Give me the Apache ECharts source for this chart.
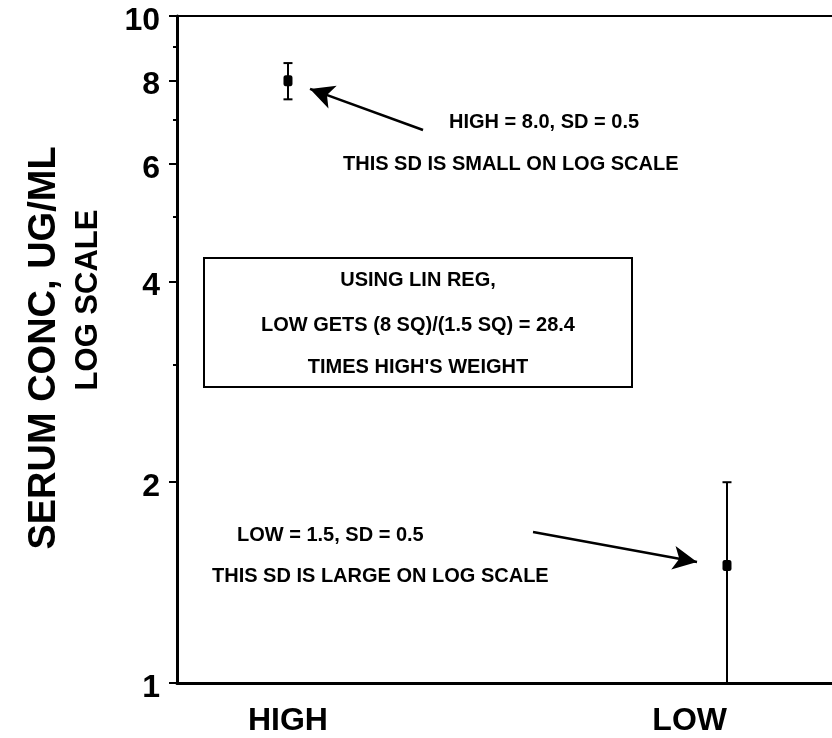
<!DOCTYPE html>
<html><head><meta charset="utf-8">
<script src="https://cdn.jsdelivr.net/npm/echarts@6/dist/echarts.min.js"></script>
<style>html,body{margin:0;padding:0;background:#fff}#c{width:832px;height:738px}</style>
</head><body><div id="c"></div>
<script>
// ---- data ----
const categories = ['HIGH', 'LOW'];
const catX = [1, 2];
const means = [8.0, 1.5];
const sds = [0.5, 0.5];
const yMajorTicks = [1, 2, 4, 6, 8, 10];
const yMinorTicks = [3, 5, 7, 9];
const xLabelPos = [1.0, 1.915];
const yTitle = ['SERUM CONC, UG/ML', 'LOG SCALE'];
// annotation arrows: [tailX, tailY, tipX, tipY] in data space
const arrowHigh = [1.3076, 6.747, 1.0502, 7.774];
const arrowLow = [1.5582, 1.684, 1.9317, 1.518];
const notesHigh = ['HIGH = 8.0, SD = 0.5', 'THIS SD IS SMALL ON LOG SCALE'];
const notesLow = ['LOW = 1.5, SD = 0.5', 'THIS SD IS LARGE ON LOG SCALE'];
const boxLines = ['USING LIN REG,', 'LOW GETS (8 SQ)/(1.5 SQ) = 28.4', "TIMES HIGH'S WEIGHT"];

const xMin = 0.7472, xMax = 2.2392;
const FONT = '"Liberation Sans", Arial, sans-serif';

const points = catX.map((x, i) => [x, means[i]]);
const errData = catX.map((x, i) => [x, means[i] - sds[i], means[i] + sds[i]]);

const chart = echarts.init(document.getElementById('c'), null, {renderer: 'canvas'});

const txt = (s, x, y, size, align, rot) => ({
  type: 'text', x: x, y: y, rotation: rot || 0,
  style: {text: s, fill: '#000', font: 'bold ' + size + 'px ' + FONT, textAlign: align || 'left', textVerticalAlign: 'middle'}
});

chart.setOption({
  animation: false,
  backgroundColor: '#fff',
  grid: {left: 177, right: 0, top: 16, bottom: 55, containLabel: false, outerBoundsMode: 'none'},
  xAxis: [{
    type: 'value', min: xMin, max: xMax, position: 'bottom',
    axisLine: {show: true, onZero: false, lineStyle: {color: '#000', width: 3}},
    axisTick: {show: false},
    splitLine: {show: false},
    axisLabel: {
      customValues: xLabelPos, margin: 22,
      color: '#000', fontSize: 32, fontWeight: 'bold', fontFamily: FONT,
      formatter: v => { const i = xLabelPos.findIndex(p => Math.abs(p - v) < 1e-6); return i >= 0 ? categories[i] : ''; }
    }
  }, {
    type: 'value', min: xMin, max: xMax, position: 'top',
    axisLine: {show: true, onZero: false, lineStyle: {color: '#000', width: 2}},
    axisTick: {show: false}, axisLabel: {show: false}, splitLine: {show: false}
  }],
  yAxis: [{
    type: 'log', logBase: 10, min: 1, max: 10, position: 'left',
    axisLine: {show: true, onZero: false, lineStyle: {color: '#000', width: 3}},
    axisTick: {show: false}, axisLabel: {show: false}, splitLine: {show: false}
  }, {
    type: 'value', min: 0, max: 1, position: 'left',
    axisLine: {show: false, onZero: false},
    axisTick: {show: true, customValues: yMajorTicks.map(Math.log10), length: 8, lineStyle: {color: '#000', width: 2}},
    axisLabel: {
      customValues: yMajorTicks.map(Math.log10), margin: 17,
      color: '#000', fontSize: 32, fontWeight: 'bold', fontFamily: FONT,
      formatter: v => '{v|' + Math.round(Math.pow(10, v)) + '}',
      rich: {v: {color: '#000', fontSize: 32, fontWeight: 'bold', fontFamily: FONT, padding: [10, 0, 0, 0]}}
    },
    splitLine: {show: false}
  }, {
    type: 'value', min: 0, max: 1, position: 'left',
    axisLine: {show: false, onZero: false},
    axisTick: {show: true, customValues: yMinorTicks.map(Math.log10), length: 4, lineStyle: {color: '#000', width: 2}},
    axisLabel: {show: false}, splitLine: {show: false}
  }],
  series: [{
    type: 'custom', xAxisIndex: 0, yAxisIndex: 0,
    data: errData, encode: {x: 0, y: [1, 2]}, silent: true,
    renderItem: (params, api) => {
      const x = api.value(0);
      const pLo = api.coord([x, api.value(1)]);
      const pHi = api.coord([x, api.value(2)]);
      const cw = 4.5, st = {stroke: '#000', lineWidth: 2};
      return {type: 'group', children: [
        {type: 'line', shape: {x1: pLo[0], y1: pLo[1], x2: pHi[0], y2: pHi[1]}, style: st},
        {type: 'line', shape: {x1: pHi[0] - cw, y1: pHi[1], x2: pHi[0] + cw, y2: pHi[1]}, style: st},
        {type: 'line', shape: {x1: pLo[0] - cw, y1: pLo[1], x2: pLo[0] + cw, y2: pLo[1]}, style: st}
      ]};
    }
  }, {
    type: 'scatter', xAxisIndex: 0, yAxisIndex: 0,
    data: points, symbol: 'roundRect', symbolSize: [9, 11],
    itemStyle: {color: '#000', opacity: 1}, silent: true,
    markLine: {
      silent: true, symbol: ['none', 'arrow'], symbolSize: [18, 24],
      label: {show: false},
      lineStyle: {color: '#000', width: 2.5, type: 'solid', opacity: 1},
      data: [
        [{coord: [arrowHigh[0], arrowHigh[1]]}, {coord: [arrowHigh[2], arrowHigh[3]]}],
        [{coord: [arrowLow[0], arrowLow[1]]}, {coord: [arrowLow[2], arrowLow[3]]}]
      ]
    }
  }],
  graphic: [
    txt(yTitle[0], 45, 348, 38, 'center', Math.PI / 2),
    txt(yTitle[1], 88, 300, 31, 'center', Math.PI / 2),
    {type: 'rect', shape: {x: 204, y: 258, width: 428, height: 129}, style: {fill: 'none', stroke: '#000', lineWidth: 2}},
    txt(notesHigh[0], 449, 122, 20),
    txt(notesHigh[1], 343, 164, 20),
    txt(notesLow[0], 237, 535, 20),
    txt(notesLow[1], 212, 576, 20),
    txt(boxLines[0], 418, 280, 20, 'center'),
    txt(boxLines[1], 418, 325, 20, 'center'),
    txt(boxLines[2], 418, 367, 20, 'center')
  ]
});
</script>
</body></html>
